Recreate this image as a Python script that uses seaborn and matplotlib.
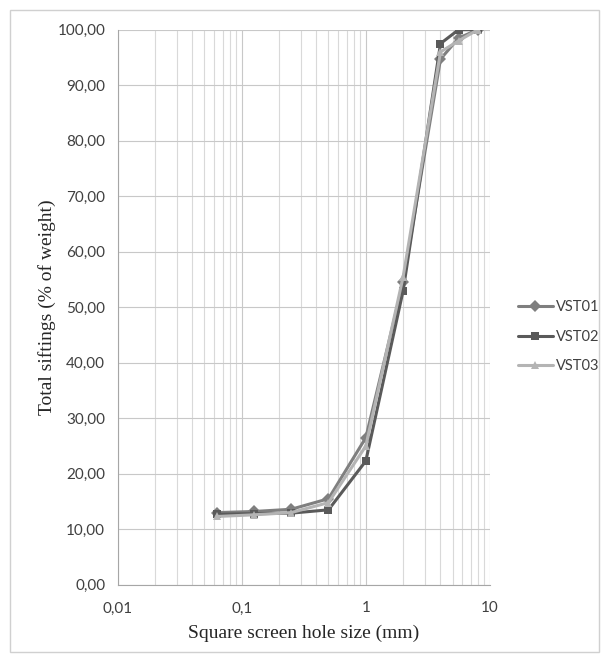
import matplotlib
matplotlib.use("Agg")
import matplotlib.pyplot as plt
import matplotlib.ticker as mticker
from matplotlib.patches import Rectangle
import seaborn as sns
import pandas as pd

sizes = [0.063, 0.125, 0.25, 0.5, 1, 2, 4, 5.6, 8]
vst01 = [13.0, 13.2, 13.6, 15.5, 26.5, 54.5, 94.7, 98.5, 100.0]
vst02 = [12.7, 12.8, 12.9, 13.5, 22.3, 53.0, 97.5, 100.0, 100.0]
vst03 = [12.3, 12.6, 13.0, 14.8, 25.0, 55.5, 96.0, 98.0, 100.0]
series_names = ["VST01", "VST02", "VST03"]
x_ticks = [0.01, 0.1, 1, 10]
x_labels = ["0,01", "0,1", "1", "10"]

rows = []
for name, vals in zip(series_names, [vst01, vst02, vst03]):
    for s, v in zip(sizes, vals):
        rows.append({"size": s, "value": v, "series": name})
df = pd.DataFrame(rows)

sns.set_style("white")
fig = plt.figure(figsize=(6.07, 6.6), dpi=100)
ax = fig.add_axes([0.194, 0.114, 0.613, 0.841])

palette = {"VST01": "#7f7f7f", "VST02": "#5a5a5a", "VST03": "#b4b4b4"}
markers = {"VST01": "D", "VST02": "s", "VST03": "^"}
sns.lineplot(data=df, x="size", y="value", hue="series", style="series",
             palette=palette, markers=markers, dashes=False, linewidth=2.2,
             markersize=6, markeredgewidth=0, ax=ax, sort=False)

ax.set_xscale("log")
ax.set_xlim(0.01, 10)
ax.set_ylim(0, 100)
ax.set_yticks(range(0, 101, 10))
ax.set_yticklabels([f"{v},00" for v in range(0, 101, 10)])
ax.set_xticks(x_ticks)
ax.set_xticklabels(x_labels)
ax.xaxis.set_minor_locator(mticker.LogLocator(base=10, subs=range(2, 10)))
ax.xaxis.set_minor_formatter(mticker.NullFormatter())

ax.grid(True, which="major", axis="both", color="#c8c8c8", linewidth=0.8)
ax.grid(True, which="minor", axis="x", color="#d9d9d9", linewidth=0.8)
ax.set_axisbelow(True)
for sp in ["top", "right"]:
    ax.spines[sp].set_visible(False)
for sp in ["left", "bottom"]:
    ax.spines[sp].set_color("#a6a6a6")
    ax.spines[sp].set_linewidth(0.8)

ax.tick_params(axis="y", which="major", length=5, color="#a6a6a6",
               labelsize=11, labelcolor="#404040", direction="out", pad=4)
ax.tick_params(axis="x", which="major", length=0, color="#a6a6a6",
               labelsize=11, labelcolor="#404040", pad=12)
ax.tick_params(axis="x", which="minor", length=0)
for lab in ax.get_xticklabels() + ax.get_yticklabels():
    lab.set_family("Lato")

ax.set_xlabel("Square screen hole size (mm)", family="Liberation Serif",
              fontsize=14, color="#262626", labelpad=7)
ax.set_ylabel("Total siftings (% of weight)", family="Liberation Serif",
              fontsize=14, color="#262626", labelpad=1)

leg = ax.legend(loc="center left", bbox_to_anchor=(1.04, 0.447), frameon=False,
                prop={"family": "Lato", "size": 10.5}, handlelength=2.4,
                labelspacing=1.05, handletextpad=0.2, title=None)
for t in leg.get_texts():
    t.set_color("#404040")

fig.patches.append(Rectangle((0.017, 0.012), 0.97, 0.973, transform=fig.transFigure,
                             fill=False, edgecolor="#d0d0d0", linewidth=1.0))

fig.savefig("out.png", dpi=100)
